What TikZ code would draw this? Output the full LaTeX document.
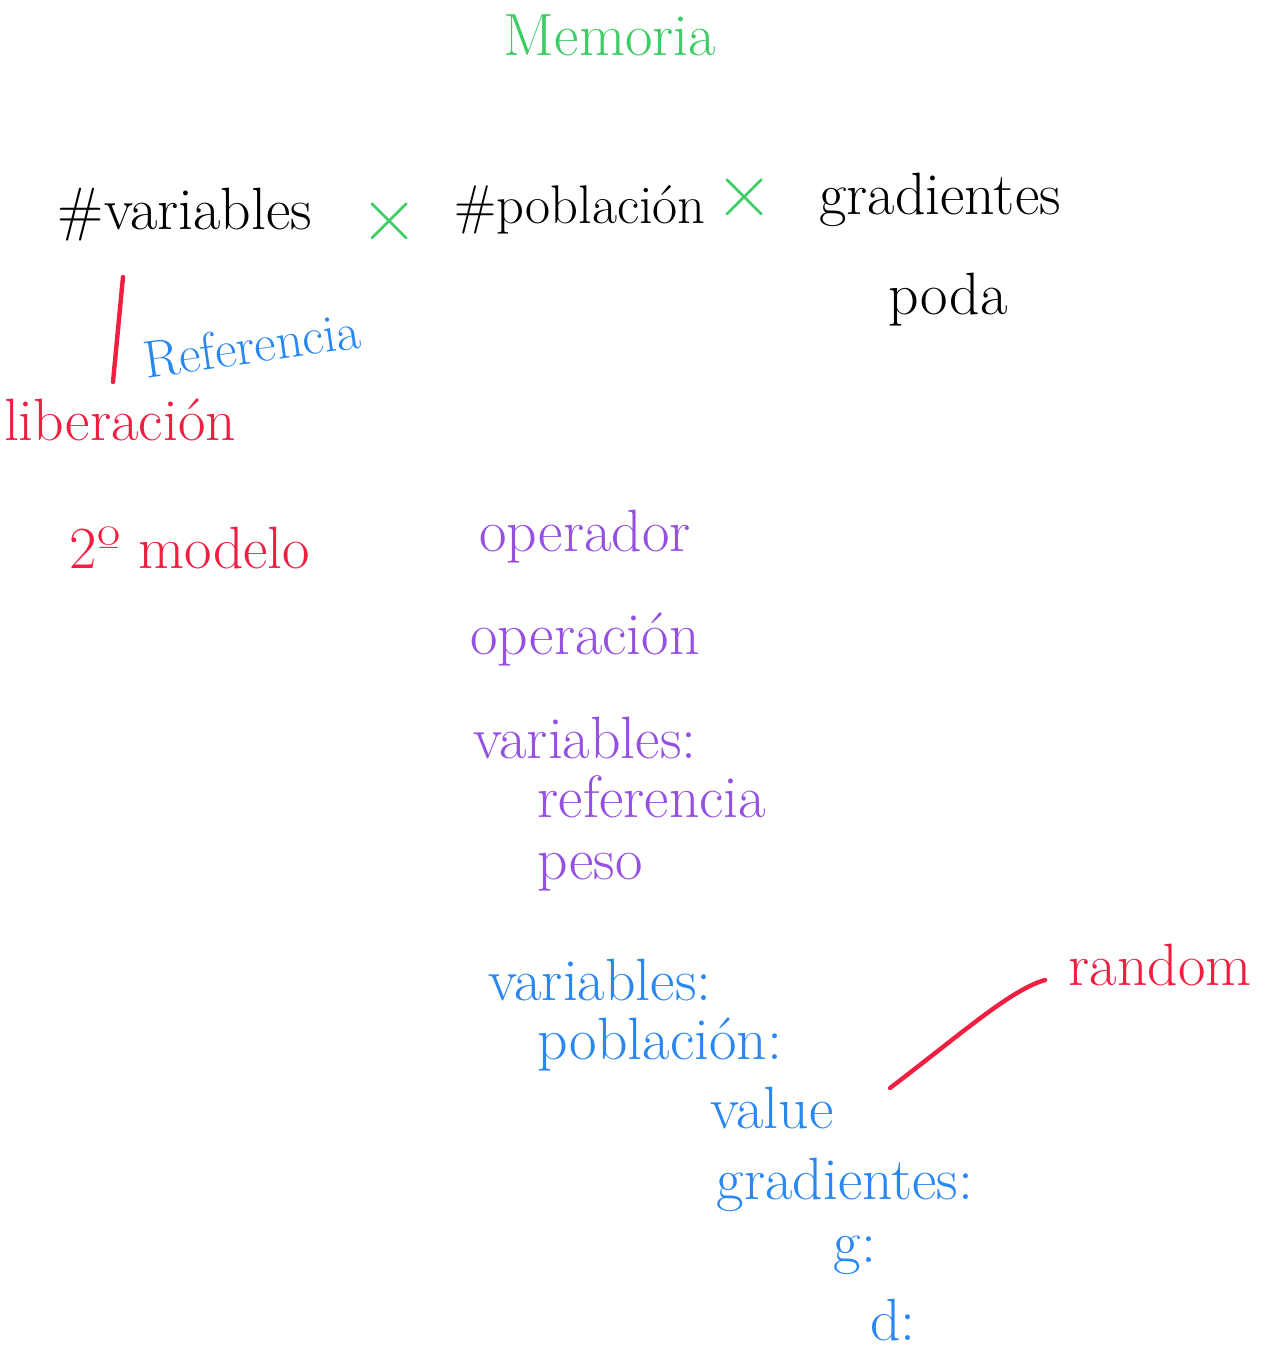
\documentclass[tikz,border=0pt]{standalone}
\usepackage{fontspec}
\usepackage{tikz}
\usetikzlibrary{arrows.meta,calc,positioning}

\definecolor{memgreen}{RGB}{60,205,100}
\definecolor{memred}{RGB}{240,30,65}
\definecolor{memblue}{RGB}{40,135,240}
\definecolor{mempurple}{RGB}{150,80,225}

\begin{document}
\begin{tikzpicture}[x=0.02cm,y=-0.02cm,
    every node/.style={inner sep=0pt,font=\fontsize{34}{38}\selectfont},
    ink/.style={text=black},
    greenink/.style={text=memgreen},
    redink/.style={text=memred},
    blueink/.style={text=memblue},
    purpleink/.style={text=mempurple},
    crossmark/.style={text=memgreen,font=\fontsize{46}{50}\selectfont},
    stroke/.style={memred,line width=2.5pt,line cap=round}]
    \useasboundingbox[fill=white] (0,0) rectangle (1268,1352);
    % title
    \node[greenink] (memoria) at (610,35) {Memoria};
    % top row
    \node[ink] (nvar) at (185,215) {\#variables};
    \node[crossmark] (x1) at (390,222) {×};
    \node[ink,font=\fontsize{31}{35}\selectfont] (npob) at (580,210) {\#población};
    \node[crossmark] (x2) at (745,198) {×};
    \node[ink] (grad) at (940,200) {gradientes};
    \node[ink] (poda) at (948,300) {poda};
    % left notes
    \coordinate (l0) at (123,277);
    \coordinate (l1) at (113,382);
    \draw[stroke] (l0) -- (l1);
    \node[blueink,rotate=8,font=\fontsize{30}{34}\selectfont] (ref) at (252,345) {Referencia};
    \node[redink] (lib) at (120,420) {liberación};
    \node[redink] (modelo) at (190,548) {2º modelo};
    % operador
    \node[purpleink] (op) at (585,537) {operador};
    \node[purpleink] (opn) at (585,640) {operación};
    \node[purpleink] (vars) at (585,738) {variables:};
    \node[purpleink] (vref) at (652,797) {referencia};
    \node[purpleink] (peso) at (590,872) {peso};
    % variables
    \node[blueink] (bvars) at (600,980) {variables:};
    \node[blueink] (bpob) at (660,1045) {población:};
    \node[blueink] (val) at (772,1108) {value};
    \node[blueink] (bgrad) at (845,1185) {gradientes:};
    \node[blueink] (g) at (855,1255) {g:};
    \node[blueink] (d) at (893,1320) {d:};
    \node[redink] (rand) at (1160,965) {random};
    \coordinate (r0) at (890,1088);
    \coordinate (r1) at (1045,980);
    \draw[stroke] (r0) .. controls (960,1035) and (1010,990) .. (r1);
\end{tikzpicture}
\end{document}
